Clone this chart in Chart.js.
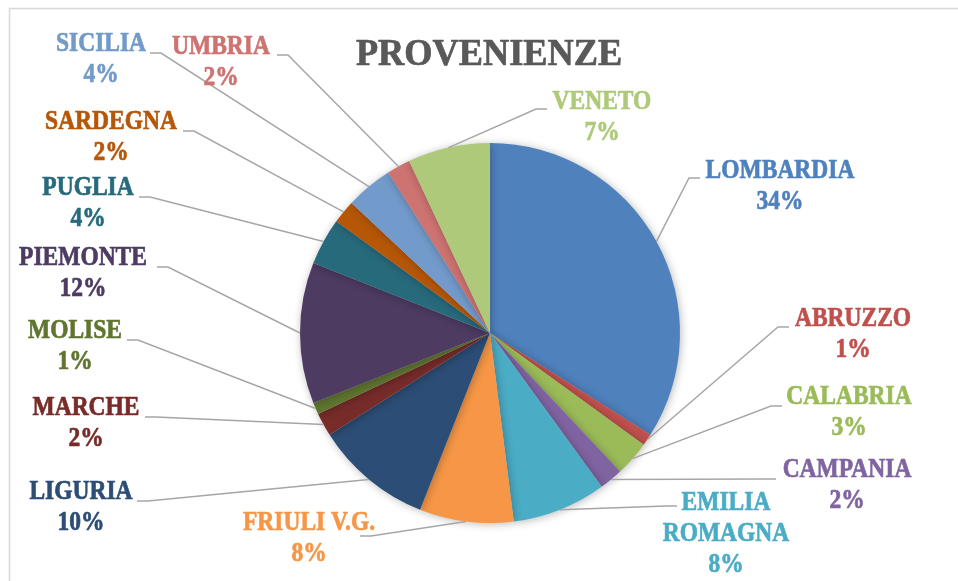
<!DOCTYPE html>
<html lang="it">
<head>
<meta charset="utf-8">
<script src="https://cdn.jsdelivr.net/npm/chart.js@4.4.1/dist/chart.umd.min.js"></script>
<style>
  html, body { margin: 0; padding: 0; background: #fff; }
  #wrap { width: 958px; height: 581px; position: relative; }
</style>
</head>
<body>
<div id="wrap"><canvas id="provChart" width="958" height="581"></canvas></div>

<script>
// dati
const regioni = ['LOMBARDIA', 'ABRUZZO', 'CALABRIA', 'CAMPANIA', 'EMILIA ROMAGNA', 'FRIULI V.G.', 'LIGURIA',
  'MARCHE', 'MOLISE', 'PIEMONTE', 'PUGLIA', 'SARDEGNA', 'SICILIA', 'UMBRIA', 'VENETO'];
const percentuali = [34, 1, 3, 2, 8, 8, 10, 2, 1, 12, 4, 2, 4, 2, 7];
const colori = ['#4F81BD', '#C0504D', '#9BBB59', '#8064A2', '#4BACC6', '#F79646', '#2C4D75',
  '#772C2A', '#5F7530', '#4D3B62', '#276A7C', '#B65708', '#729ACA', '#CD7371', '#AFC97A'];

// posizione etichette: centro testo x, centro prima riga y, attacco linea (x, y), direzione stub
const posEtichette = [
  { x: 780, y: 171, ax: 700, ay: 178, dir: -1 },
  { x: 853, y: 319, ax: 789, ay: 327, dir: -1 },
  { x: 849, y: 397, ax: 782, ay: 406, dir: -1 },
  { x: 847, y: 470, ax: 776, ay: 479, dir: -1 },
  { x: 726, y: 503, ax: 677, ay: 506, dir: -1, righe: ['EMILIA', 'ROMAGNA'] },
  { x: 309, y: 523, ax: 360, ay: 536, dir: 1 },
  { x: 81, y: 492, ax: 137, ay: 501, dir: 1 },
  { x: 86, y: 408, ax: 145, ay: 417, dir: 1 },
  { x: 75, y: 331, ax: 127, ay: 340, dir: 1 },
  { x: 83, y: 258, ax: 157, ay: 267, dir: 1 },
  { x: 88, y: 188, ax: 139, ay: 197, dir: 1 },
  { x: 111, y: 122, ax: 183, ay: 131, dir: 1 },
  { x: 101, y: 44, ax: 150, ay: 53, dir: 1 },
  { x: 221, y: 47, ax: 277, ay: 55, dir: 1 },
  { x: 602, y: 102, ax: 547, ay: 109, dir: -1 }
];

function testoStretto(ctx, txt, x, y, size, sx) {
  ctx.save();
  ctx.font = 'bold ' + size + 'px "Liberation Serif", serif';
  ctx.textAlign = 'center';
  ctx.textBaseline = 'middle';
  ctx.translate(x, y);
  ctx.scale(sx, 1);
  ctx.strokeStyle = ctx.fillStyle;
  ctx.lineWidth = 0.7;
  ctx.lineJoin = 'round';
  ctx.fillText(txt, 0, 0);
  ctx.strokeText(txt, 0, 0);
  ctx.restore();
}

// cornice + titolo
const sfondo = {
  id: 'sfondo',
  beforeDraw(chart) {
    const ctx = chart.ctx;
    ctx.save();
    ctx.strokeStyle = '#D9D9D9';
    ctx.lineWidth = 1.5;
    ctx.beginPath();
    ctx.moveTo(9.5, 581);
    ctx.lineTo(9.5, 8.5);
    ctx.lineTo(958, 8.5);
    ctx.stroke();
    ctx.fillStyle = '#595959';
    testoStretto(ctx, 'PROVENIENZE', 489, 55, 38, 0.955);
    ctx.restore();
  }
};

// ombra della torta
const ombra = {
  id: 'ombra',
  beforeDatasetsDraw(chart) {
    const ctx = chart.ctx;
    ctx.save();
    ctx.shadowColor = 'rgba(0,0,0,0.28)';
    ctx.shadowBlur = 8;
    ctx.shadowOffsetX = 1;
    ctx.shadowOffsetY = 1;
  },
  afterDatasetsDraw(chart) {
    chart.ctx.restore();
  }
};

// etichette con linee guida
const etichette = {
  id: 'etichette',
  afterDatasetsDraw(chart) {
    const ctx = chart.ctx;
    const archi = chart.getDatasetMeta(0).data;
    archi.forEach((arc, i) => {
      const p = posEtichette[i];
      const mid = (arc.startAngle + arc.endAngle) / 2;
      const ex = arc.x + Math.cos(mid) * arc.outerRadius;
      const ey = arc.y + Math.sin(mid) * arc.outerRadius;
      ctx.save();
      ctx.strokeStyle = '#A6A6A6';
      ctx.lineWidth = 1.5;
      ctx.beginPath();
      ctx.moveTo(p.ax, p.ay);
      ctx.lineTo(p.ax + p.dir * 11, p.ay);
      ctx.lineTo(ex, ey);
      ctx.stroke();
      ctx.fillStyle = colori[i];
      const righe = (p.righe || [regioni[i]]).concat([percentuali[i] + '%']);
      righe.forEach((r, k) => testoStretto(ctx, r, p.x, p.y + k * 31, 27, 0.87));
      ctx.restore();
    });
  }
};

new Chart(document.getElementById('provChart'), {
  type: 'pie',
  data: {
    labels: regioni,
    datasets: [{
      data: percentuali,
      backgroundColor: colori,
      borderWidth: 0
    }]
  },
  options: {
    responsive: false,
    animation: false,
    layout: { padding: { top: 143, bottom: 58, left: 300, right: 278 } },
    plugins: {
      legend: { display: false },
      tooltip: { enabled: false },
      title: { display: false }
    }
  },
  plugins: [sfondo, ombra, etichette]
});
</script>
</body>
</html>
